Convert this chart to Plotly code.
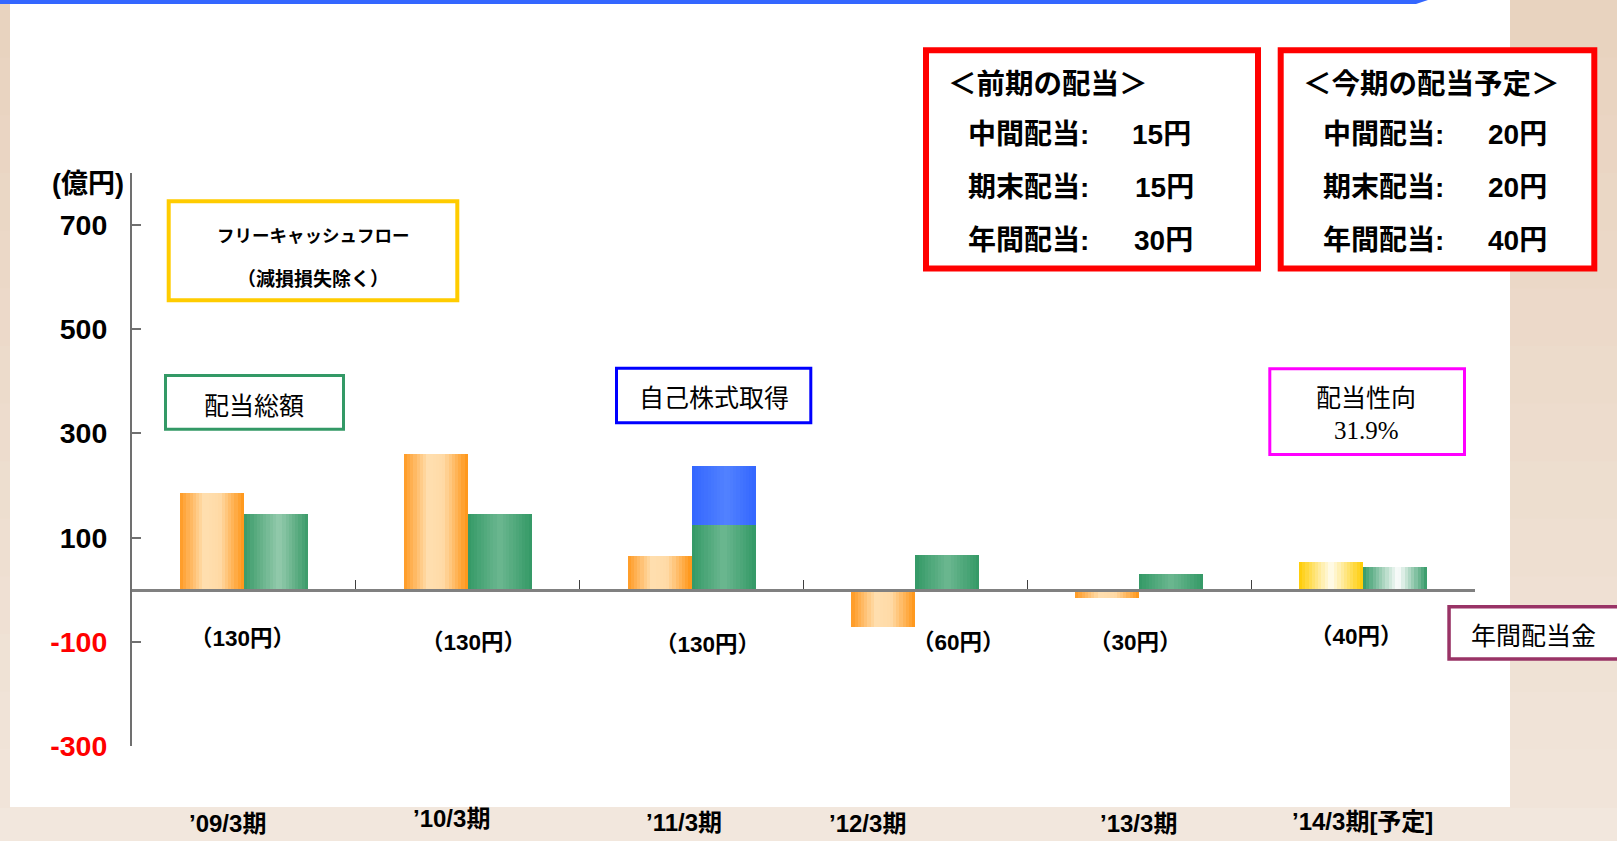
import plotly.graph_objects as go

# ---------------- data ----------------
categories = ["’09/3期", "’10/3期", "’11/3期", "’12/3期", "’13/3期", "’14/3期[予定]"]
fcf = [185, 260, 64, -72, -15, 54]          # フリーキャッシュフロー（減損損失除く）
dividends = [145, 145, 125, 67, 31, 44]     # 配当総額
buyback = [0, 0, 113, 0, 0, 0]              # 自己株式取得
dps = [130, 130, 130, 60, 30, 40]           # 年間配当金（円）
ytick_vals = [700, 500, 300, 100, -100, -300]
ytick_text = ["700", "500", "300", "100", "-100", "-300"]
prev_labels = ["中間配当:", "期末配当:", "年間配当:"]
prev_values = ["15円", "15円", "30円"]
next_labels = ["中間配当:", "期末配当:", "年間配当:"]
next_values = ["20円", "20円", "40円"]
payout_ratio = "31.9%"

# ---------------- geometry helpers ----------------
W, H = 1617, 841
L, R, T, B = 132, 142, 173, 95
PW, PH = W - L - R, H - T - B
Y_RANGE = [-300, 800]


def X(px):
    return (px - L) / PW


def Y(py):
    return (H - B - py) / PH


def hex2rgb(h):
    h = h.lstrip("#")
    return tuple(int(h[i:i + 2], 16) for i in (0, 2, 4))


def grad(stops, t):
    for (p0, c0), (p1, c1) in zip(stops[:-1], stops[1:]):
        if p0 <= t <= p1:
            f = (t - p0) / (p1 - p0) if p1 > p0 else 0
            a, b = hex2rgb(c0), hex2rgb(c1)
            return "rgb(%d,%d,%d)" % tuple(round(a[i] + (b[i] - a[i]) * f) for i in range(3))
    return stops[-1][1]


ORANGE = [(0, "#FF9922"), (0.38, "#FFDFB0"), (0.62, "#FFDAA6"), (1, "#FF9414")]
YELLOW = [(0, "#FFCC00"), (0.5, "#FFFCF0"), (1, "#FFCC00")]
GREEN = [(0, "#339966"), (0.5, "#6CB790"), (1, "#339966")]
GREEN_LIGHT = [(0, "#3A9A68"), (0.55, "#94CBAD"), (1, "#3A9A68")]
GREEN_WHITE = [(0, "#339966"), (0.55, "#FFFFFF"), (1, "#339966")]
BLUE = [(0, "#3366FF"), (0.55, "#5282FF"), (1, "#3366FF")]
fcf_style = [ORANGE] * 5 + [YELLOW]
div_style = [GREEN_LIGHT] + [GREEN] * 4 + [GREEN_WHITE]
bb_style = [BLUE] * 6

BW = 0.286   # bar width in category units
N = 20       # gradient strips per bar

fig = go.Figure()


def add_gradient_bars(values, styles, offset0, base=None):
    step = BW / N
    for k in range(N):
        t = (k + 0.5) / N
        cols = [grad(s, t) for s in styles]
        w = min(2.5 * step, BW - k * step)   # overlap the next strip to hide seams
        fig.add_trace(go.Bar(
            x=categories, y=values, base=base,
            width=w, offset=offset0 + k * step,
            marker=dict(color=cols, line=dict(width=0)),
            showlegend=False, hoverinfo="skip"))


add_gradient_bars(fcf, fcf_style, -BW)
add_gradient_bars(dividends, div_style, 0)
add_gradient_bars(buyback, bb_style, 0, base=dividends)

# ---------------- shapes ----------------
BEIGE_TOP, BEIGE_BOT = "#E8D2BE", "#F1E5DA"
shapes = [dict(type="rect", xref="paper", yref="paper", layer="below",
               x0=X(10), x1=X(1510), y0=Y(807), y1=Y(-5),
               fillcolor="white", line=dict(width=0))]
NB = 14
for i in range(NB):
    y0p = 807 * i / NB
    y1p = 807 * (i + 1) / NB + 1
    col = grad([(0, BEIGE_TOP), (1, BEIGE_BOT)], (i + 0.5) / NB)
    for xa, xb in [(-5, 10), (1510, 1625)]:
        shapes.append(dict(type="rect", xref="paper", yref="paper", layer="below",
                           x0=X(xa), x1=X(xb), y0=Y(y1p), y1=Y(y0p),
                           fillcolor=col, line=dict(width=0)))
# blue top rule
shapes.append(dict(type="path", xref="paper", yref="paper", layer="above",
                   path="M %f,%f L %f,%f L %f,%f L %f,%f Z" % (
                       X(0), Y(-2), X(1434), Y(-2), X(1416), Y(4), X(0), Y(4)),
                   fillcolor="#3366FF", line=dict(width=0)))


def box(x0, y0, x1, y1, color, lw):
    shapes.append(dict(type="rect", xref="paper", yref="paper",
                       x0=X(x0 + lw / 2), x1=X(x1 - lw / 2),
                       y0=Y(y1 - lw / 2), y1=Y(y0 + lw / 2),
                       fillcolor="white", line=dict(color=color, width=lw)))


box(166.7, 199.3, 459.3, 302.3, "#FFCC00", 4)
box(164, 374, 345, 430.7, "#339966", 3)
box(615, 366.7, 812.3, 424.3, "#0000FF", 3)
box(1268.3, 367.3, 1466, 456, "#FF00FF", 3)
box(1447.3, 605, 1640, 660.7, "#993366", 3.5)
box(923, 47.3, 1261, 271.5, "#FF0000", 6)
box(1277.7, 47.3, 1597.3, 271.5, "#FF0000", 6)

# ---------------- annotations ----------------
SANS = "Liberation Sans, Arial, Noto Sans CJK JP"
CJK = "Noto Sans CJK JP"
ann = []


def txt(text, px, py, size, bold=False, family=SANS, color="black", xanchor="center"):
    ann.append(dict(text=text, x=X(px), y=Y(py), xref="paper", yref="paper",
                    xanchor=xanchor, yanchor="middle", showarrow=False,
                    font=dict(family=family, size=size, color=color,
                              weight="bold" if bold else "normal")))


txt("(億円)", 88, 184, 27, bold=True)
txt("フリーキャッシュフロー", 313.7, 235, 17.5, bold=True, family=CJK)
txt("（減損損失除く）", 313, 277, 19, bold=True, family=CJK)
txt("配当総額", 254, 404, 25, family=CJK)
txt("自己株式取得", 714.3, 396, 25, family=CJK)
txt("配当性向", 1366, 396, 25, family=CJK)
txt(payout_ratio, 1366, 430, 25, family="Liberation Serif, Times New Roman")
txt("年間配当金", 1533, 634, 25, family=CJK)

txt("＜前期の配当＞", 946, 84, 28.5, bold=True, xanchor="left")
txt("＜今期の配当予定＞", 1301, 84, 28.5, bold=True, xanchor="left")
row_y = [135, 188, 240]
prev_vx = [1130, 1133, 1132]
for i in range(3):
    txt(prev_labels[i], 966, row_y[i], 28, bold=True, xanchor="left")
    txt(prev_values[i], prev_vx[i], row_y[i], 28, bold=True, xanchor="left")
    txt(next_labels[i], 1321, row_y[i], 28, bold=True, xanchor="left")
    txt(next_values[i], 1486, row_y[i], 28, bold=True, xanchor="left")

# per-category labels (category names at bottom, dividend per share under bars)
cat_shift = [-16, -16, -8, -48, -1, -1]
cat_y = [823, 819, 822, 823, 823, 821]
dps_shift = [-1, 6, 16, 43, -4, -7]
dps_y = [638, 642, 644, 642, 642, 636]
for i, c in enumerate(categories):
    ann.append(dict(text=c, x=c, xref="x", y=Y(cat_y[i]), yref="paper",
                    xshift=cat_shift[i], showarrow=False, xanchor="center", yanchor="middle",
                    font=dict(family=SANS, size=24, color="black", weight="bold")))
    ann.append(dict(text="（%d円）" % dps[i], x=c, xref="x", y=Y(dps_y[i]), yref="paper",
                    xshift=dps_shift[i], showarrow=False, xanchor="center", yanchor="middle",
                    font=dict(family=SANS, size=22.5, color="black", weight="bold")))

ticktext = [('<span style="color:#FF0000">%s</span>' % t) if v < 0 else t
            for v, t in zip(ytick_vals, ytick_text)]

fig.update_layout(
    width=W, height=H,
    margin=dict(l=L, r=R, t=T, b=B, autoexpand=False),
    paper_bgcolor="#F2E7DD", plot_bgcolor="rgba(0,0,0,0)",
    barmode="overlay", bargap=0, showlegend=False,
    shapes=shapes, annotations=ann,
    xaxis=dict(type="category", range=[-0.5, 5.5], showticklabels=False,
               ticks="inside", tickson="boundaries", ticklen=9, tickwidth=1.2,
               tickcolor="#404040", showline=True, linecolor="#808080", linewidth=2.5,
               showgrid=False, zeroline=False, anchor="free", position=300 / 1100,
               fixedrange=True, automargin=False),
    yaxis=dict(range=Y_RANGE, tickmode="array", tickvals=ytick_vals, ticktext=ticktext,
               tickfont=dict(family=SANS, size=28.5, color="black", weight="bold"),
               ticks="inside", ticklen=9, tickwidth=1.5, tickcolor="#707070",
               showline=True, linecolor="#707070", linewidth=2,
               showgrid=False, zeroline=False, ticklabelstandoff=17,
               fixedrange=True, automargin=False),
)

fig.write_html("out.html", config={"displayModeBar": False},
               post_script="document.body.style.margin='0';document.body.style.overflow='hidden';")
